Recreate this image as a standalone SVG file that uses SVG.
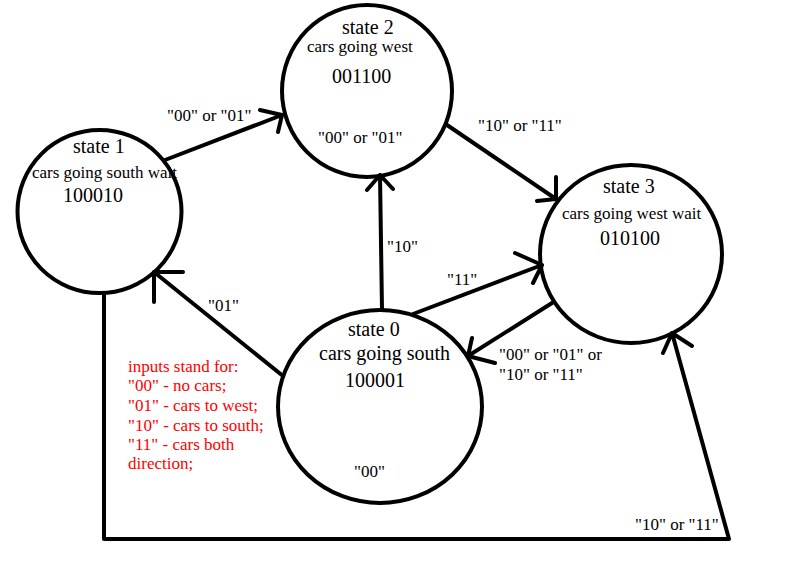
<svg xmlns="http://www.w3.org/2000/svg" width="791" height="582" viewBox="0 0 791 582">
<style>
.node{fill:none;stroke:#000;stroke-width:4}
.edge{fill:none;stroke:#000;stroke-width:4;stroke-linecap:round;stroke-linejoin:round}
text{font-family:"Liberation Serif","Times New Roman",serif;fill:#000}
.t20{font-size:20px}
.t17{font-size:17px}
.red{fill:#ff0000;font-size:17px}
</style>
<rect width="791" height="582" fill="#fff"/>
<g id="connectors">
  <path class="edge" d="M165,160 L282,115 M260,110 L282,115 L278,132"/>
  <path class="edge" d="M447,125 L556,199 M556,177 L556,199 L537,201"/>
  <path class="edge" d="M382,310 L380,175 M367,190 L380,175 L393,189"/>
  <path class="edge" d="M413,314 L542,265 M515,253 L542,265 L533,283"/>
  <path class="edge" d="M552,303 L468,356 M472,338 L468,356 L495,363"/>
  <path class="edge" d="M283,376 L154,272 M183,272 L154,272 L154,302"/>
  <path class="edge" d="M104,293 L104,539 L729,539 L672,333 M663,353 L672,333 L692,346"/>
  <text class="t17" x="167" y="121">"00" or "01"</text>
  <text class="t17" x="478" y="131">"10" or "11"</text>
  <text class="t17" x="387" y="252">"10"</text>
  <text class="t17" x="447" y="285">"11"</text>
  <text class="t17" x="208" y="311">"01"</text>
  <text class="t17" x="499" y="360">"00" or "01" or</text>
  <text class="t17" x="499" y="380">"10" or "11"</text>
  <text class="t17" x="635" y="530">"10" or "11"</text>
</g>
<g id="state1">
  <ellipse class="node" cx="99.5" cy="211.5" rx="82" ry="81.5"/>
  <text class="t20" x="73" y="153">state 1</text>
  <text class="t17" x="32" y="178">cars going south wait</text>
  <text class="t20" x="63" y="202">100010</text>
</g>
<g id="state2">
  <ellipse class="node" cx="367" cy="91" rx="85" ry="86"/>
  <text class="t20" x="342" y="34">state 2</text>
  <text class="t17" x="307" y="52">cars going west</text>
  <text class="t20" x="332" y="83">001100</text>
  <text class="t17" x="318" y="143">"00" or "01"</text>
</g>
<g id="state3">
  <ellipse class="node" cx="631" cy="254" rx="91" ry="89"/>
  <text class="t20" x="603" y="193">state 3</text>
  <text class="t17" x="562" y="219">cars going west wait</text>
  <text class="t20" x="600" y="245">010100</text>
</g>
<g id="state0">
  <ellipse class="node" cx="380" cy="406.5" rx="102" ry="96.5"/>
  <text class="t20" x="348" y="336">state 0</text>
  <text class="t20" x="319" y="360">cars going south</text>
  <text class="t20" x="345" y="387">100001</text>
  <text class="t17" x="354" y="477">"00"</text>
</g>
<g id="legend">
  <text class="red" x="128" y="372">inputs stand for:</text>
  <text class="red" x="128" y="391">"00" - no cars;</text>
  <text class="red" x="128" y="411">"01" - cars to west;</text>
  <text class="red" x="128" y="431">"10" - cars to south;</text>
  <text class="red" x="128" y="450">"11" - cars both</text>
  <text class="red" x="128" y="469">direction;</text>
</g>
</svg>
